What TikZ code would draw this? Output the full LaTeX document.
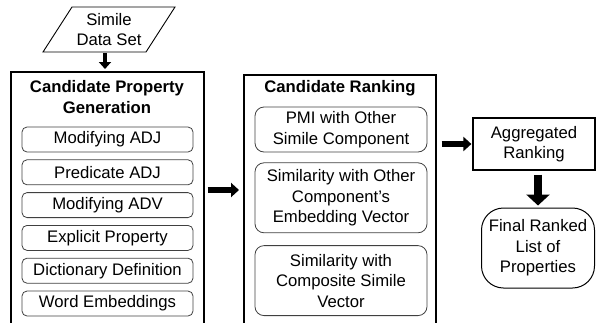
\documentclass[tikz,border=0pt]{standalone}
\usepackage{fontspec}
\setmainfont{Liberation Sans}
\usetikzlibrary{positioning, arrows.meta}

\begin{document}
\begin{tikzpicture}[
    x=1pt, y=-1pt,
    node distance=7pt,
    every node/.style={align=center, font=\fontsize{16.7}{20.5}\selectfont, inner sep=0pt},
    datanode/.style={minimum width=132pt, minimum height=45pt},
    dataline/.style={draw, line width=0.9pt, line join=miter},
    bigbox/.style={draw, line width=1.6pt, minimum width=193pt, minimum height=290pt, anchor=north west},
    titletext/.style={font=\fontsize{16.7}{20.5}\selectfont\bfseries},
    subbox/.style={draw=black!75, line width=0.8pt, rounded corners=5pt, minimum width=171pt, minimum height=25pt},
    rankbox/.style={draw=black!75, line width=0.8pt, rounded corners=9pt, minimum width=172pt},
    aggbox/.style={draw, line width=1.2pt, minimum width=122pt, minimum height=52pt},
    finalbox/.style={draw, line width=1pt, rounded corners=22pt, minimum width=113pt, minimum height=80pt},
    blockarrow/.style={line width=6.5pt, -{Triangle[length=8pt,width=14pt]}},
    bigarrow/.style={line width=8pt, -{Triangle[length=11pt,width=23pt]}}
]
\clip (0,0) rectangle (596,322);

% Input
\node[datanode] (data) at (109,29.5) {Simile\\Data Set};
\draw[dataline] ([shift={(-37,-22.5)}]data.center) -- ++(103,0) -- ++(-29,45) -- ++(-103,0) -- cycle;

% Candidate property generation
\node[bigbox] (gen) at (10,71) {};
\node[titletext] (gentitle) at (107,97) {Candidate Property\\Generation};
\node[subbox] (modadj) at (107.5,139.5) {Modifying ADJ};
\node[subbox, below=of modadj] (predadj) {Predicate ADJ};
\node[subbox, below=of predadj] (modadv) {Modifying ADV};
\node[subbox, below=of modadv] (explicit) {Explicit Property};
\node[subbox, below=of explicit] (dict) {Dictionary Definition};
\node[subbox, below=of dict] (wordemb) {Word Embeddings};

% Candidate ranking
\node[bigbox, minimum width=192pt] (rank) at (243,74) {};
\node[titletext] (ranktitle) at (340,88) {Candidate Ranking};
\node[rankbox, minimum height=45pt] (pmi) at (341,129.5) {PMI with Other\\Simile Component};
\node[rankbox, minimum height=70pt, below=10pt of pmi] (simother) {Similarity with Other\\Component's\\Embedding Vector};
\node[rankbox, minimum height=70pt, below=12pt of simother] (simcomp) {Similarity with\\Composite Simile\\Vector};

% Output
\node[aggbox] (agg) at (534,144) {Aggregated\\Ranking};
\node[finalbox] (final) at (538,248) {Final Ranked\\List of\\Properties};

% Flow
\draw[blockarrow, line width=4.5pt, -{Triangle[length=7pt,width=12pt]}, shorten <=1pt, shorten >=2pt] ([xshift=-4pt]data.south) -- ([xshift=-4pt]data.south |- gen.north);
\draw[blockarrow, shorten <=3pt, shorten >=4pt] (gen.east |- 0,190) -- (rank.west |- 0,190);
\draw[blockarrow, shorten <=5pt, shorten >=1pt] (rank.east |- agg.west) -- (agg.west);
\draw[bigarrow, shorten <=4pt, shorten >=2pt] (agg.south -| final.north) -- (final.north);

\end{tikzpicture}
\end{document}
